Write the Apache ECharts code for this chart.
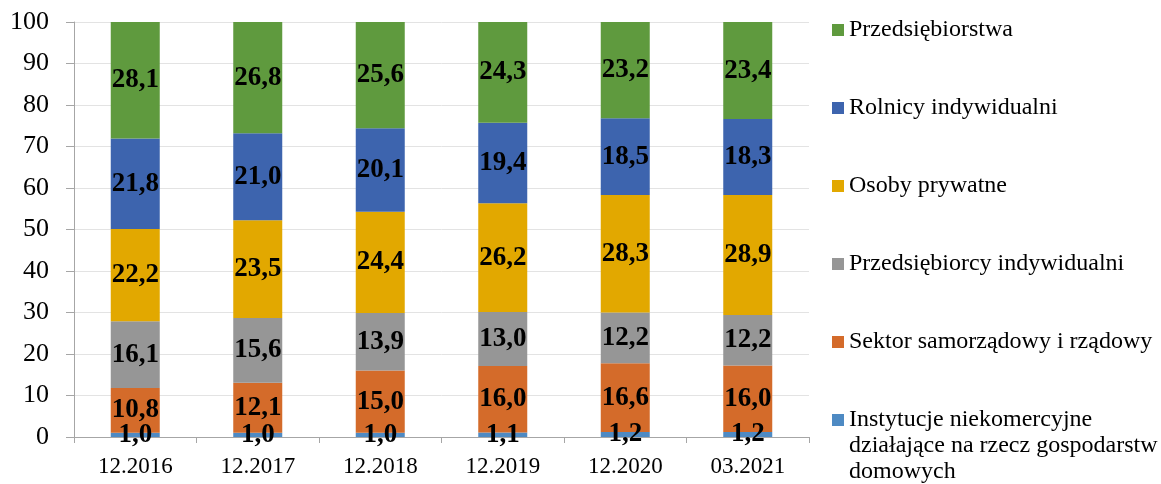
<!DOCTYPE html>
<html>
<head>
<meta charset="utf-8">
<script src="https://cdn.jsdelivr.net/npm/echarts@6/dist/echarts.min.js"></script>
<style>
  html, body { margin: 0; padding: 0; background: #fff; }
  #main { width: 1161px; height: 484px; }
</style>
</head>
<body>
<div id="main"></div>
<script>
// dane
const categories = ['12.2016', '12.2017', '12.2018', '12.2019', '12.2020', '03.2021']
const seriesNames = [
  'Instytucje niekomercyjne działające na rzecz gospodarstw domowych',
  'Sektor samorządowy i rządowy',
  'Przedsiębiorcy indywidualni',
  'Osoby prywatne',
  'Rolnicy indywidualni',
  'Przedsiębiorstwa'
]
const instytucje = [1.0, 1.0, 1.0, 1.1, 1.2, 1.2]
const sektor = [10.8, 12.1, 15.0, 16.0, 16.6, 16.0]
const przedsiebiorcy = [16.1, 15.6, 13.9, 13.0, 12.2, 12.2]
const osoby = [22.2, 23.5, 24.4, 26.2, 28.3, 28.9]
const rolnicy = [21.8, 21.0, 20.1, 19.4, 18.5, 18.3]
const przedsiebiorstwa = [28.1, 26.8, 25.6, 24.3, 23.2, 23.4]
const yTicks = [0, 10, 20, 30, 40, 50, 60, 70, 80, 90, 100]

const colors = ['#4e8ac3', '#d46b2a', '#969696', '#e2a800', '#3d64ae', '#5f9a3e']
const values = [instytucje, sektor, przedsiebiorcy, osoby, rolnicy, przedsiebiorstwa]
const font = '"Liberation Serif", "Times New Roman", serif'

let chart = echarts.init(document.getElementById('main'))

let series = seriesNames.map((name, i) => ({
  name: name,
  type: 'bar',
  stack: 'all',
  barWidth: '40%',
  data: values[i],
  itemStyle: { color: colors[i] },
  label: {
    show: true,
    position: 'inside',
    color: '#000',
    fontFamily: font,
    fontWeight: 'bold',
    fontSize: 27,
    formatter: p => p.value.toFixed(1).replace('.', ',')
  }
}))

let legendText = { fontFamily: font, fontSize: 24, color: '#000', lineHeight: 26 }

let option = {
  animation: false,
  grid: { left: 74, right: 352, top: 22, bottom: 47 },
  legend: [
    {
      orient: 'vertical',
      left: 832,
      top: 17,
      padding: 0,
      itemWidth: 12,
      itemHeight: 12,
      itemGap: 52,
      icon: 'rect',
      selectedMode: false,
      textStyle: legendText,
      data: seriesNames.slice(1).reverse()
    },
    {
      // ostatnia pozycja w trzech wierszach, kwadrat przy pierwszym wierszu
      orient: 'vertical',
      left: 832,
      top: 355,
      padding: 0,
      itemWidth: 12,
      itemHeight: 12,
      icon: 'rect',
      selectedMode: false,
      formatter: () => '\n\nInstytucje niekomercyjne\ndziałające na rzecz gospodarstw\ndomowych',
      textStyle: legendText,
      data: [seriesNames[0]]
    }
  ],
  xAxis: {
    type: 'category',
    data: categories,
    axisLine: { lineStyle: { color: '#a6a6a6' } },
    axisTick: { show: true, length: 6, lineStyle: { color: '#a6a6a6' } },
    axisLabel: { color: '#000', fontFamily: font, fontSize: 23, margin: 18 }
  },
  yAxis: {
    type: 'value',
    min: yTicks[0],
    max: yTicks[yTicks.length - 1],
    interval: 10,
    axisLine: { show: true, lineStyle: { color: '#a6a6a6' } },
    axisTick: { show: true, length: 8, lineStyle: { color: '#a6a6a6' } },
    splitLine: { lineStyle: { color: '#e3e3e3' } },
    axisLabel: { color: '#000', fontFamily: font, fontSize: 26, margin: 25 }
  },
  series: series
}

chart.setOption(option)
</script>
</body>
</html>
